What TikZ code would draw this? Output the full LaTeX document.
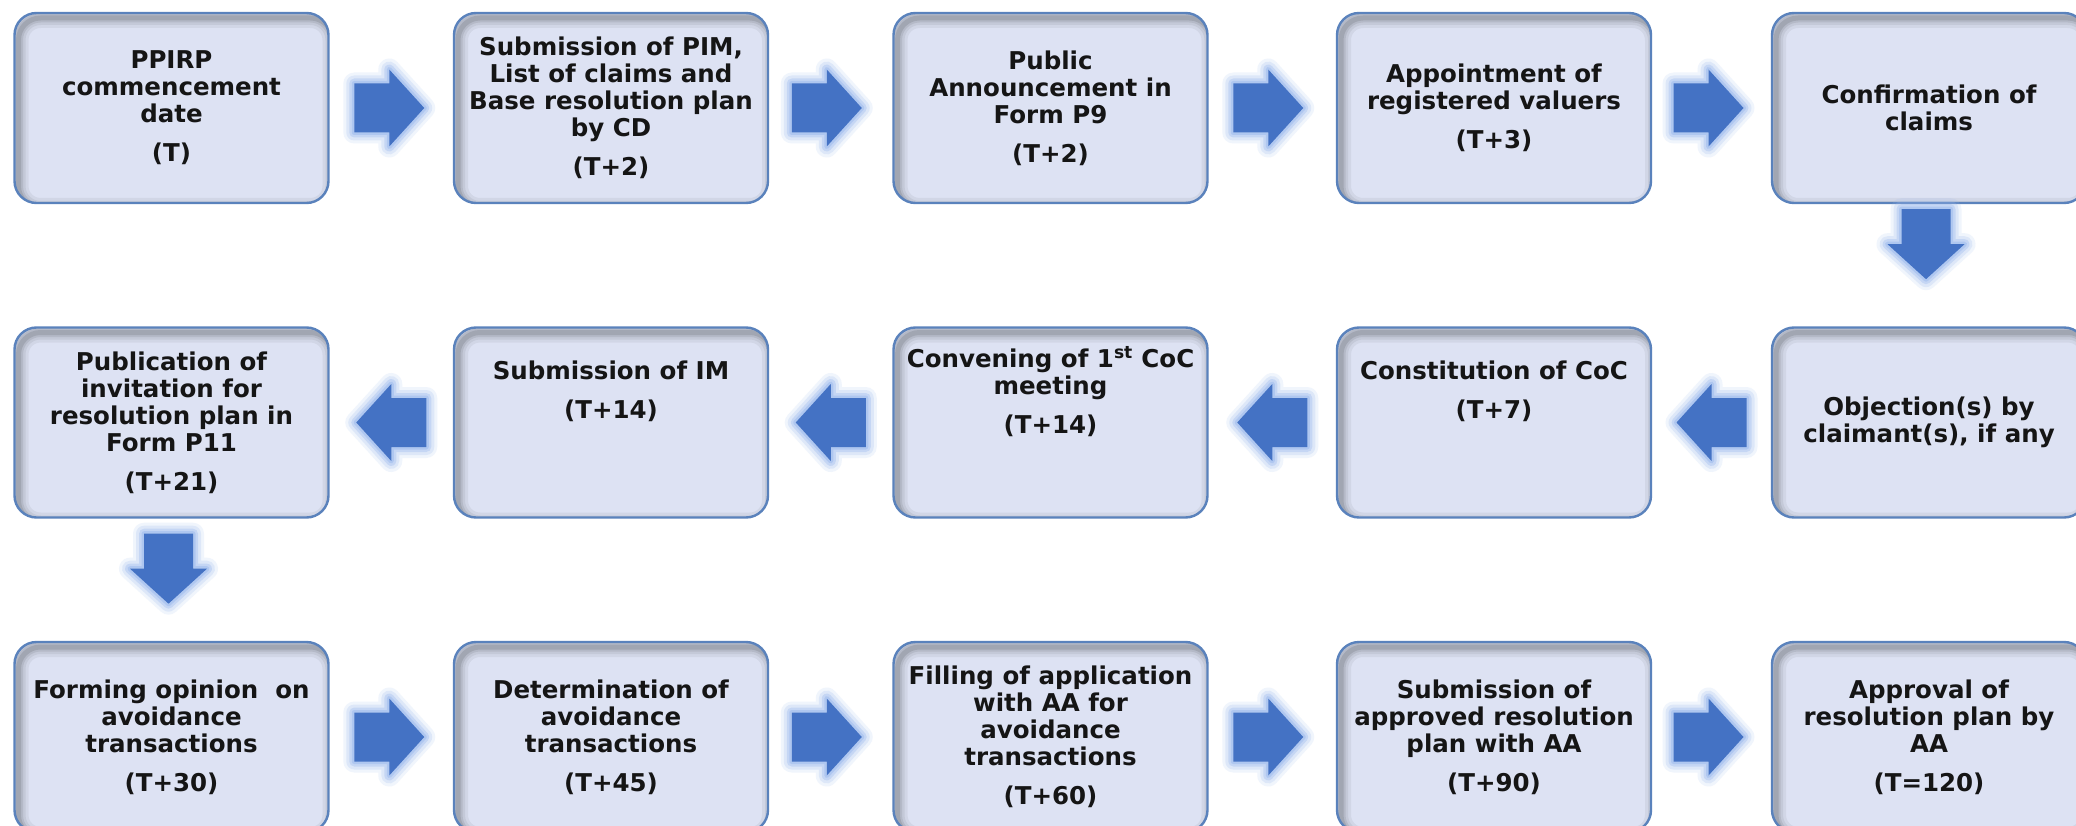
\documentclass[tikz,border=0pt]{standalone}
\usepackage{fontspec}
\setmainfont{DejaVu Sans}
\usetikzlibrary{calc}

\definecolor{boxfill}{HTML}{DDE2F3}
\definecolor{boxline}{HTML}{5A82BC}
\definecolor{arrowblue}{HTML}{4472C4}
\definecolor{glowblue}{HTML}{9AB9EE}
\definecolor{ink}{HTML}{151515}

\tikzset{
  stage/.style={
    draw=boxline, line width=2.4pt, fill=boxfill, rounded corners=22pt,
    minimum width=314pt, minimum height=190pt, inner sep=0pt,
    align=center, text=ink,
    font=\fontsize{24.5}{27}\selectfont\bfseries,
    path picture={
      % soft inner shadow along the upper and left edges
      \foreach \lw/\op in {20/0.05,14/0.06,9/0.08,5/0.10}
        \draw[line width=\lw pt, black, opacity=\op, rounded corners=22pt]
          ([shift={(4pt,-5pt)}]path picture bounding box.north west) rectangle
          ([shift={(4pt,-5pt)}]path picture bounding box.south east);
    }
  },
  blockarrow/.pic={
    % glow halo, then the solid arrow
    \foreach \lw/\op in {22/0.14,16/0.22,10/0.35,5/0.5}
      \draw[line width=\lw pt, glowblue, opacity=\op, line join=round]
        (-35,-24.5) -- (0,-24.5) -- (0,-38.5) -- (35,0) -- (0,38.5) -- (0,24.5) -- (-35,24.5) -- cycle;
    \fill[arrowblue]
      (-35,-24.5) -- (0,-24.5) -- (0,-38.5) -- (35,0) -- (0,38.5) -- (0,24.5) -- (-35,24.5) -- cycle;
  }
}

\begin{document}
\begin{tikzpicture}[x=1pt,y=-1pt]
\useasboundingbox (0,0) rectangle (2076,826);
\fill[white] (0,0) rectangle (2076,826);

% first row
\node[stage] (s1) at (171.5,108) {PPIRP\\commencement\\date\\[12pt](T)};
\node[stage] (s2) at (611,108) {Submission of PIM,\\List of claims and\\Base resolution plan\\by CD\\[12pt](T+2)};
\node[stage] (s3) at (1050.5,108) {Public\\Announcement in\\Form P9\\[12pt](T+2)};
\node[stage] (s4) at (1494,108) {Appointment of\\registered valuers\\[12pt](T+3)};
\node[stage] (s5) at (1929,108) {Confirmation of\\claims};

% second row
\node[stage] (s10) at (171.5,422.5) {Publication of\\invitation for\\resolution plan in\\Form P11\\[12pt](T+21)};
\node[stage] (s9) at (611,422.5) {Submission of IM\\[12pt](T+14)\\[39pt]\mbox{}};
\node[stage] (s8) at (1050.5,422.5) {Convening of 1\textsuperscript{st} CoC\\meeting\\[12pt](T+14)\\[39pt]\mbox{}};
\node[stage] (s7) at (1494,422.5) {Constitution of CoC\\[12pt](T+7)\\[39pt]\mbox{}};
\node[stage] (s6) at (1929,422.5) {Objection(s) by\\claimant(s), if any};

% third row
\node[stage] (s11) at (171.5,737) {Forming opinion~~on\\avoidance\\transactions\\[12pt](T+30)};
\node[stage] (s12) at (611,737) {Determination of\\avoidance\\transactions\\[12pt](T+45)};
\node[stage] (s13) at (1050.5,737) {Filling of application\\with AA for\\avoidance\\transactions\\[12pt](T+60)};
\node[stage] (s14) at (1494,737) {Submission of\\approved resolution\\plan with AA\\[12pt](T+90)};
\node[stage] (s15) at (1929,737) {Approval of\\resolution plan by\\AA\\[12pt](T=120)};

% connectors, first row
\pic at ($(s1.east)!0.5!(s2.west)+(-2,0)$) {blockarrow};
\pic at ($(s2.east)!0.5!(s3.west)+(-4,0)$) {blockarrow};
\pic at ($(s3.east)!0.5!(s4.west)+(-4,0)$) {blockarrow};
\pic at ($(s4.east)!0.5!(s5.west)+(-3,0)$) {blockarrow};
\pic[rotate=-90] at ($(s5.south)+(-3,40)$) {blockarrow};

% connectors, second row (right to left)
\pic[rotate=180] at ($(s6.west)!0.5!(s7.east)$) {blockarrow};
\pic[rotate=180] at ($(s7.west)!0.5!(s8.east)$) {blockarrow};
\pic[rotate=180] at ($(s8.west)!0.5!(s9.east)$) {blockarrow};
\pic[rotate=180] at ($(s9.west)!0.5!(s10.east)$) {blockarrow};
\pic[rotate=-90] at ($(s10.south)+(-3,50)$) {blockarrow};

% connectors, third row
\pic at ($(s11.east)!0.5!(s12.west)+(-2,0)$) {blockarrow};
\pic at ($(s12.east)!0.5!(s13.west)+(-4,0)$) {blockarrow};
\pic at ($(s13.east)!0.5!(s14.west)+(-4,0)$) {blockarrow};
\pic at ($(s14.east)!0.5!(s15.west)+(-3,0)$) {blockarrow};
\end{tikzpicture}
\end{document}
